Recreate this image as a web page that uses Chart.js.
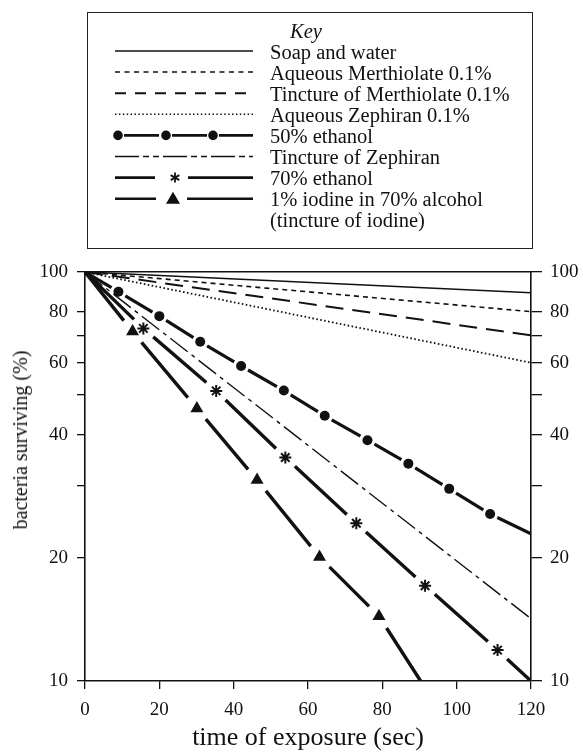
<!DOCTYPE html>
<html><head><meta charset="utf-8">
<script src="https://cdn.jsdelivr.net/npm/chart.js@4.4.0/dist/chart.umd.min.js"></script>
<style>
html,body{margin:0;padding:0;background:#fff;}
#wrap{position:relative;width:583px;height:756px;overflow:hidden;background:#fff;}
#c{position:absolute;left:0;top:0;}
#keybox{position:absolute;left:87px;top:12px;width:446px;height:237px;border:1.5px solid #222;box-sizing:border-box;}
#ks{position:absolute;left:0;top:0;}
.row{position:absolute;white-space:nowrap;line-height:21px;height:21px;font-family:"Liberation Serif","Times New Roman",serif;font-size:20.5px;color:#111;}
#ytitle{position:absolute;left:20px;top:440px;transform:translate(-50%,-50%) rotate(-90deg);white-space:nowrap;font-family:"Liberation Serif","Times New Roman",serif;font-size:20px;line-height:22px;color:#111;}
</style></head><body>
<div id="wrap">
<div id="keybox"></div>
<canvas id="c" width="583" height="756"></canvas>
<svg id="ks" width="583" height="260"></svg>
<div id="ytitle"></div>
</div>
<script>
// ---- data ----
const timeEnds = [0, 120];
const soapWater = [100, 89];
const aqMerthiolate = [100, 80];
const tincMerthiolate = [100, 70];
const aqZephiran = [100, 60];
const tincZephiran = [100, 14.2];
const eth50Ends = [100, 22.9];
const eth50Time = [9, 20, 31, 42, 53.5, 64.5, 76, 87, 98, 109];
const eth50Marks = [89.5, 78, 67.5, 58.9, 51.3, 44.5, 38.8, 34, 29.5, 25.6];
const eth70Ends = [100, 10];
const eth70Time = [15.7, 35.3, 53.9, 73, 91.5, 111];
const eth70Marks = [72.8, 51.2, 35.2, 24.3, 17.1, 11.9];
const iodineTimeEnds = [0, 90.3];
const iodineEnds = [100, 10];
const iodineTime = [12.8, 30.1, 46.3, 63.1, 79.1];
const iodineMarks = [71.5, 46.4, 31.0, 20.1, 14.4];
const xTicks = [0, 20, 40, 60, 80, 100, 120];
const yTicks = [10, 20, 30, 40, 50, 60, 70, 80, 100];
const yLabels = [10, 20, 40, 60, 80, 100];
const keyTitle = 'Key';
const keyLabels = ['Soap and water', 'Aqueous Merthiolate 0.1%', 'Tincture of Merthiolate 0.1%',
  'Aqueous Zephiran 0.1%', '50% ethanol', 'Tincture of Zephiran', '70% ethanol',
  '1% iodine in 70% alcohol', '(tincture of iodine)'];
const xTitle = 'time of exposure (sec)';
const yTitle = 'bacteria surviving (%)';

const INK = '#111';
const FONT = '"Liberation Serif","Times New Roman",serif';
const pts = (xs, ys) => xs.map((x, i) => ({x: x, y: ys[i]}));

function lineDs(label, xs, ys, width, dash) {
  return {label, data: pts(xs, ys), borderColor: INK, borderWidth: width, borderDash: dash,
    pointRadius: 0, tension: 0, fill: false, order: 2};
}
// line through markers, broken by a gap around each marker
function gapDash(gap) {
  return ctx => {
    const L = Math.hypot(ctx.p1.x - ctx.p0.x, ctx.p1.y - ctx.p0.y);
    const n = ctx.chart.data.datasets[ctx.datasetIndex].data.length;
    const g0 = ctx.p0DataIndex === 0 ? 0 : gap;
    const g1 = ctx.p1DataIndex === n - 1 ? 0 : gap;
    return [0, g0, Math.max(L - g0 - g1, 0), g1];
  };
}
function brokenDs(label, xs, ys, width, gap) {
  return {label, data: pts(xs, ys), borderColor: INK, borderWidth: width,
    pointRadius: 0, tension: 0, fill: false, order: 2,
    segment: {borderDash: gapDash(gap)}};
}
function markDs(label, xs, ys, style, r, bw) {
  return {label, data: pts(xs, ys), showLine: false, pointStyle: style, pointRadius: r,
    pointBackgroundColor: INK, pointBorderColor: INK, pointBorderWidth: bw, order: 1};
}

const datasets = [
  lineDs(keyLabels[0], timeEnds, soapWater, 1.5, []),
  lineDs(keyLabels[1], timeEnds, aqMerthiolate, 1.6, [5, 4]),
  lineDs(keyLabels[2], timeEnds, tincMerthiolate, 2, [18, 9]),
  lineDs(keyLabels[3], timeEnds, aqZephiran, 1.8, [1.6, 2.4]),
  brokenDs(keyLabels[4], [timeEnds[0], ...eth50Time, timeEnds[1]], [eth50Ends[0], ...eth50Marks, eth50Ends[1]], 3.2, 8),
  lineDs(keyLabels[5], timeEnds, tincZephiran, 1.4, [22, 5, 4, 5]),
  brokenDs(keyLabels[6], [timeEnds[0], ...eth70Time, timeEnds[1]], [eth70Ends[0], ...eth70Marks, eth70Ends[1]], 3.4, 13),
  brokenDs(keyLabels[7], [iodineTimeEnds[0], ...iodineTime, iodineTimeEnds[1]], [iodineEnds[0], ...iodineMarks, iodineEnds[1]], 3.4, 14),
  markDs('m50', eth50Time, eth50Marks, 'circle', 5, 0),
  markDs('m70', eth70Time, eth70Marks, 'star', 6, 2),
  markDs('mI', iodineTime, iodineMarks, 'triangle', 7.5, 0)
];

const tickFont = {family: FONT, size: 19};
const ySide = (pos, width, tickLen, pad) => ({
  type: 'logarithmic', position: pos, min: 10, max: 100,
  afterBuildTicks: s => { s.ticks = yTicks.map(v => ({value: v})); },
  afterFit: s => { s.width = width; },
  ticks: {autoSkip: false, color: INK, font: tickFont, padding: pad,
    callback: v => yLabels.includes(v) ? String(v) : ''},
  grid: {drawOnChartArea: false, drawTicks: true, tickLength: tickLen, color: INK, lineWidth: 1.3},
  border: {display: true, color: INK, width: 1.6},
  title: {display: false}
});

new Chart(document.getElementById('c'), {
  type: 'line',
  data: {datasets},
  options: {
    responsive: false, animation: false, devicePixelRatio: 1,
    layout: {padding: {top: 272, left: 0, right: 0, bottom: 0}},
    plugins: {legend: {display: false}, tooltip: {enabled: false}},
    scales: {
      x: {type: 'linear', position: 'bottom', min: 0, max: 120,
        afterBuildTicks: s => { s.ticks = xTicks.map(v => ({value: v})); },
        afterFit: s => { s.height = 75; },
        ticks: {color: INK, font: tickFont, padding: 10, maxRotation: 0},
        grid: {drawOnChartArea: false, tickLength: 8, color: INK, lineWidth: 1.3},
        border: {color: INK, width: 1.6},
        title: {display: true, text: xTitle, color: INK, font: {family: FONT, size: 26}, padding: {top: 0, bottom: 2}}
      },
      xTop: {type: 'linear', position: 'top', min: 0, max: 120,
        afterFit: s => { s.height = 0; },
        ticks: {display: false}, grid: {drawOnChartArea: false, drawTicks: false},
        border: {color: INK, width: 1.6}
      },
      y: ySide('left', 85, 8, 9),
      y2: ySide('right', 52, 11, 8)
    }
  }
});

document.getElementById('ytitle').textContent = yTitle;

// ---- key (legend) ----
const wrap = document.getElementById('wrap');
function addRow(text, x, cy, italic) {
  const d = document.createElement('div');
  d.className = 'row';
  d.textContent = text;
  d.style.left = x + 'px';
  d.style.top = (cy - 11.5) + 'px';
  if (italic) d.style.fontStyle = 'italic';
  wrap.appendChild(d);
}
addRow(keyTitle, 290, 32, true);
keyLabels.forEach((t, i) => addRow(t, 270, 53 + 21.1 * i, false));

const NS = 'http://www.w3.org/2000/svg';
const svg = document.getElementById('ks');
function el(tag, attrs) {
  const e = document.createElementNS(NS, tag);
  for (const k in attrs) e.setAttribute(k, attrs[k]);
  svg.appendChild(e);
  return e;
}
function seg(x1, x2, y, w, dash) {
  el('line', {x1, x2, y1: y, y2: y, stroke: INK, 'stroke-width': w, 'stroke-dasharray': dash || 'none'});
}
const sy = i => 51 + 21.1 * i;
seg(115, 253, sy(0), 1.5);
seg(115, 253, sy(1), 1.5, '5,4.5');
seg(115, 253, sy(2), 2, '11,9');
seg(115, 253, sy(3), 1.6, '1.5,2.4');
// 50% ethanol
seg(124, 159, sy(4), 2.6); seg(172, 207, sy(4), 2.6); seg(219, 253, sy(4), 2.6);
[118, 166, 213].forEach(cx => el('circle', {cx, cy: sy(4), r: 4.8, fill: INK}));
seg(115, 253, sy(5), 1.5, '24,4,6,4,6,4');
// 70% ethanol
seg(115, 155, sy(6), 2.6); seg(188, 253, sy(6), 2.6);
[0, 60, 120].forEach(a => {
  const r = 5, rad = a * Math.PI / 180, cx = 175, cy = sy(6);
  el('line', {x1: cx - r * Math.sin(rad), y1: cy - r * Math.cos(rad), x2: cx + r * Math.sin(rad), y2: cy + r * Math.cos(rad), stroke: INK, 'stroke-width': 1.8});
});
// iodine
seg(115, 156, sy(7), 2.6); seg(187, 253, sy(7), 2.6);
el('polygon', {points: `${173 - 7},${sy(7) + 5} ${173 + 7},${sy(7) + 5} 173,${sy(7) - 7}`, fill: INK});
</script>
</body></html>
